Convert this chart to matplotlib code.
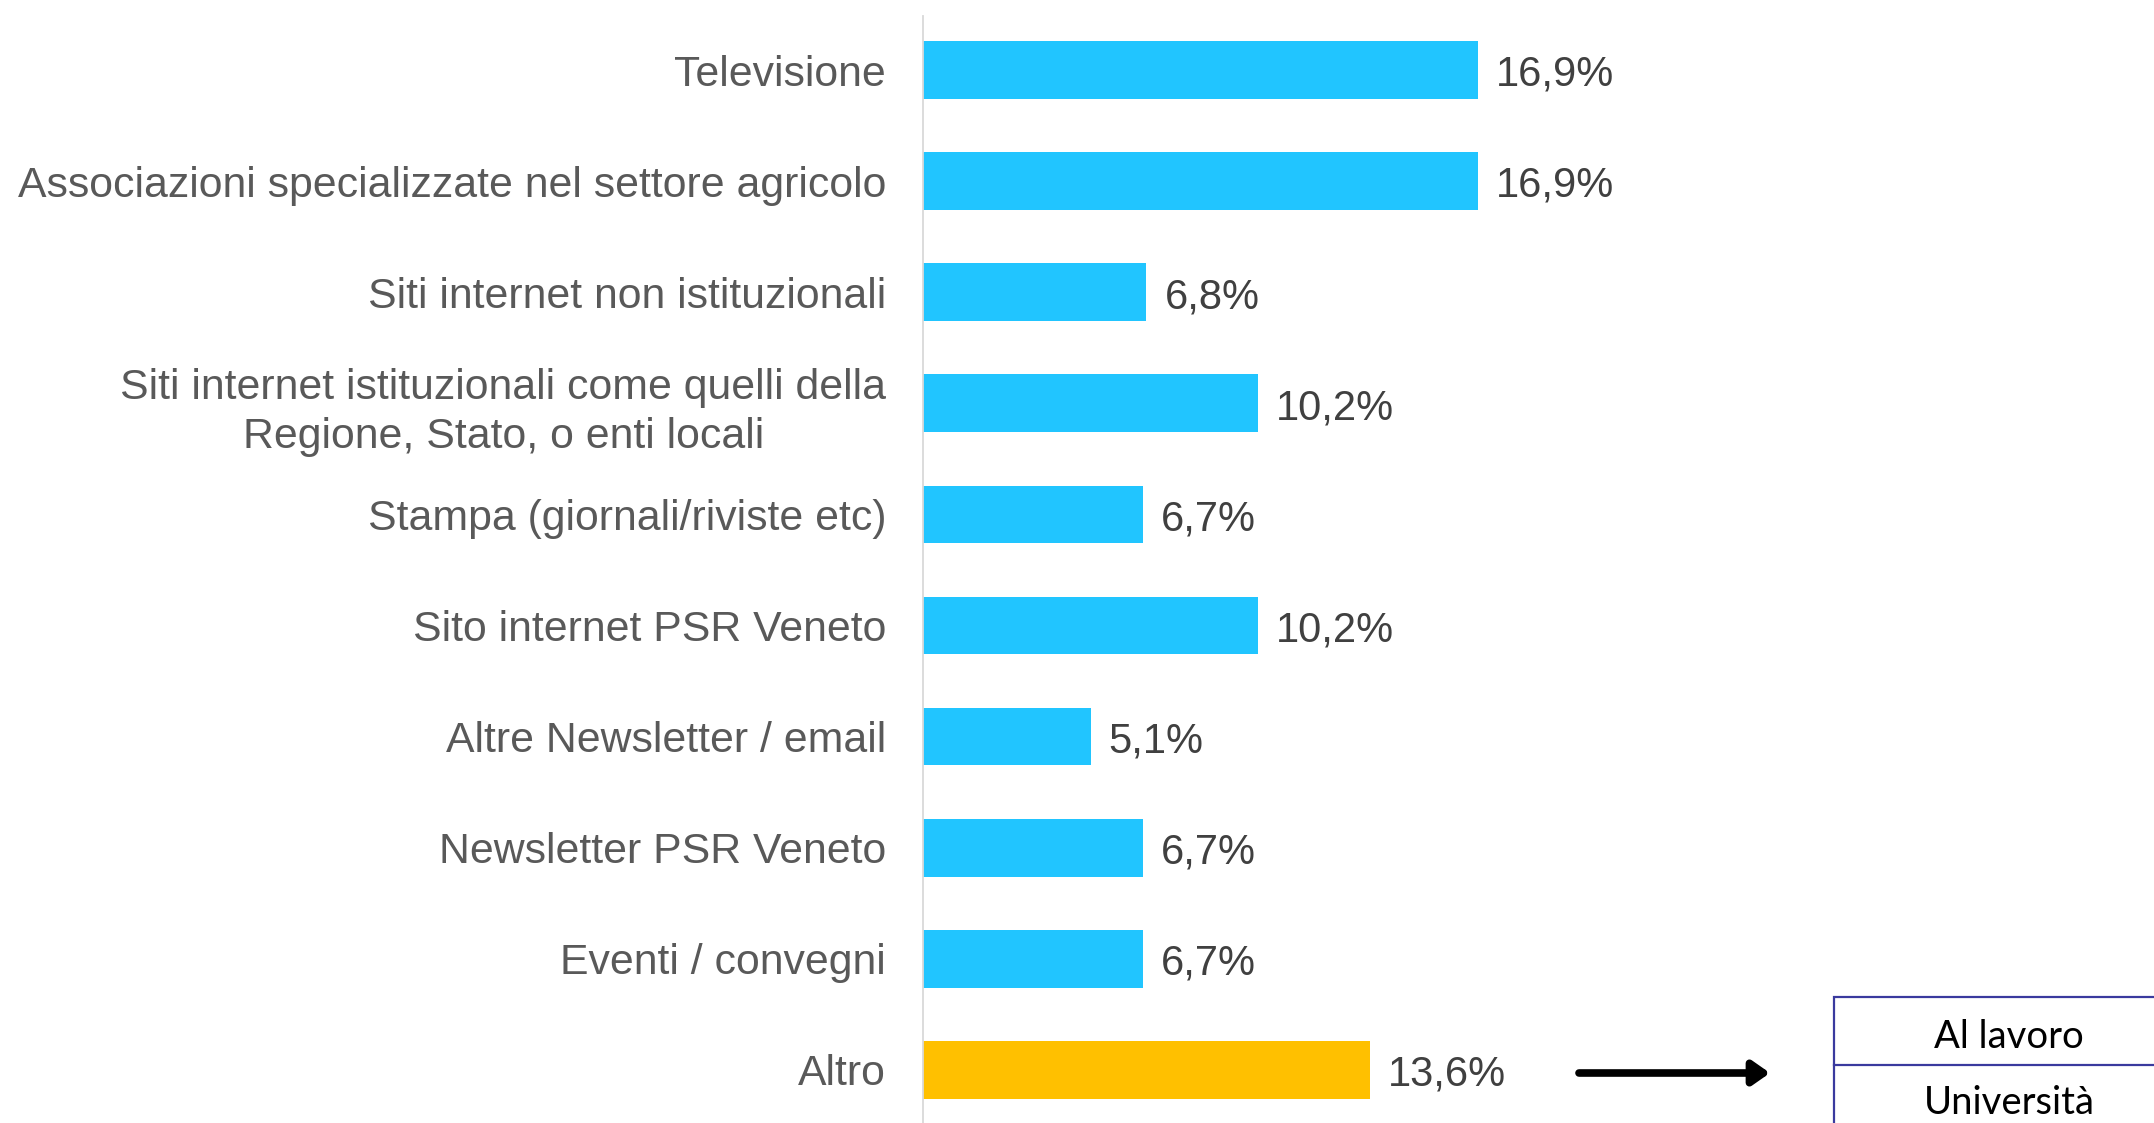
import matplotlib
matplotlib.use("Agg")
import matplotlib.pyplot as plt
from matplotlib.patches import Rectangle
from matplotlib.lines import Line2D

categories = [
    "Televisione",
    "Associazioni specializzate nel settore agricolo",
    "Siti internet non istituzionali",
    "Siti internet istituzionali come quelli della\nRegione, Stato, o enti locali",
    "Stampa (giornali/riviste etc)",
    "Sito internet PSR Veneto",
    "Altre Newsletter / email",
    "Newsletter PSR Veneto",
    "Eventi / convegni",
    "Altro",
]
values = [16.9, 16.9, 6.8, 10.2, 6.7, 10.2, 5.1, 6.7, 6.7, 13.6]
value_labels = ["16,9%", "16,9%", "6,8%", "10,2%", "6,7%", "10,2%", "5,1%", "6,7%", "6,7%", "13,6%"]
altro_items = ["Al lavoro", "Università"]

W, H = 2154, 1123
fig = plt.figure(figsize=(W / 100, H / 100), dpi=100)
fig.patch.set_facecolor("white")

ax_left = 923
ax_top = 16
ax = fig.add_axes([ax_left / W, 0, (W - ax_left) / W, (H - ax_top) / H])
px_per_unit = 32.85
ax.set_xlim(0, (W - ax_left) / px_per_unit)
spacing = 111.1
top_off = (70 - ax_top) / spacing
span = (H - ax_top) / spacing
ax.set_ylim(-top_off + span, -top_off)

colors = ["#21C5FF"] * (len(values) - 1) + ["#FFC000"]
ypos = list(range(len(categories)))
ax.barh(ypos, values, height=0.52, color=colors, zorder=2)

font = ["Liberation Sans", "DejaVu Sans"]
for y, v, lab in zip(ypos, values, value_labels):
    ax.annotate(lab, xy=(v, y), xytext=(13, -3.5), textcoords="offset points",
                ha="left", va="center", fontsize=30, color="#404040", family=font)

ax.set_yticks(ypos)
ax.set_yticklabels(categories, fontsize=30.8, color="#595959", family=font)
for t in ax.get_yticklabels():
    t.set_multialignment("center")
    t.set_linespacing(1.3)
ax.tick_params(axis="y", length=0, pad=26.5)
ax.tick_params(axis="x", bottom=False, labelbottom=False)
for s in ["top", "right", "bottom"]:
    ax.spines[s].set_visible(False)
ax.spines["left"].set_color("#D9D9D9")
ax.spines["left"].set_linewidth(1.3)
ax.set_facecolor("none")

# Arrow pointing to the "Altro" detail box
ay = H - 1073
ax.annotate("", xy=(1770, ay), xytext=(1579, ay), xycoords="figure pixels",
            textcoords="figure pixels",
            arrowprops=dict(arrowstyle="-|>,head_length=0.5,head_width=0.35",
                            lw=5.5, color="black", shrinkA=0, shrinkB=0,
                            mutation_scale=20))

# Detail box
bx, btop, bmid = 1834, 997, 1065
edge = "#3A3A9E"
fig.add_artist(Rectangle((bx / W, -0.1), 1.2, (H - btop) / H + 0.1,
                         transform=fig.transFigure, fill=False,
                         edgecolor=edge, linewidth=1.6, clip_on=False))
fig.add_artist(Line2D([bx / W, 1.05], [(H - bmid) / H] * 2,
                      transform=fig.transFigure, color=edge, linewidth=1.6))
fig.text(2009 / W, (H - 1037) / H, altro_items[0], ha="center", va="center",
         fontsize=27.5, color="black", family=["Lato", "DejaVu Sans"])
fig.text(2009 / W, (H - 1103) / H, altro_items[1], ha="center", va="center",
         fontsize=27.5, color="black", family=["Lato", "DejaVu Sans"])

fig.savefig("out.png", dpi=100, facecolor="white")
